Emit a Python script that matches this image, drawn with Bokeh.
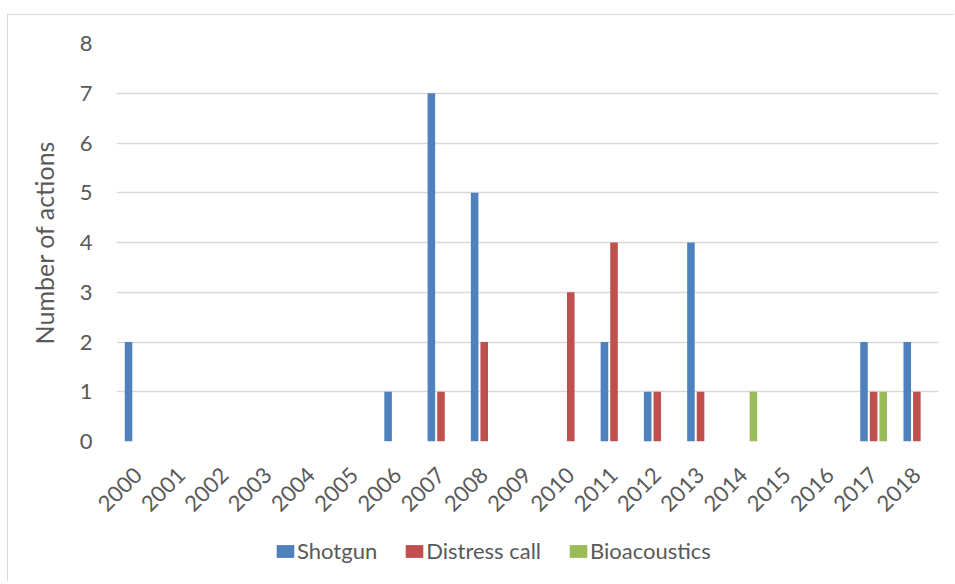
import math
from bokeh.plotting import figure
from bokeh.layouts import column
from bokeh.models import ColumnDataSource, FactorRange, Range1d, Legend, LegendItem, SingleIntervalTicker
from bokeh.transform import dodge
from bokeh.embed import file_html
from bokeh.resources import INLINE

years = [str(y) for y in range(2000, 2019)]
shotgun =      [2, 0, 0, 0, 0, 0, 1, 7, 5, 0, 0, 2, 1, 4, 0, 0, 0, 2, 2]
distress =     [0, 0, 0, 0, 0, 0, 0, 1, 2, 0, 3, 4, 1, 1, 0, 0, 0, 1, 1]
bioacoustics = [0, 0, 0, 0, 0, 0, 0, 0, 0, 0, 0, 0, 0, 0, 1, 0, 0, 1, 0]
series_names = ["Shotgun", "Distress call", "Bioacoustics"]
colors = ["#4F81BD", "#C0504D", "#9BBB59"]

source = ColumnDataSource(dict(years=years, shotgun=shotgun, distress=distress, bioacoustics=bioacoustics))

FONT = "Lato"
TXT = "#595959"
GRID = "#D9D9D9"
W = 946

p = figure(width=W, height=515, x_range=FactorRange(*years), y_range=Range1d(0, 8),
           output_backend="svg", toolbar_location=None)
p.min_border_left = 108
p.min_border_right = 16
p.min_border_top = 28
p.min_border_bottom = 89
p.outline_line_color = None
p.background_fill_color = "white"
p.border_fill_color = "white"

slot = 0.222
bw = 0.175
for k, (col, c) in enumerate(zip(["shotgun", "distress", "bioacoustics"], colors)):
    p.vbar(x=dodge("years", (k - 1) * slot, range=p.x_range), top=col, bottom=0, width=bw,
           source=source, fill_color=c, line_color=None)

p.xgrid.grid_line_color = None
p.ygrid.grid_line_color = GRID
p.ygrid.grid_line_width = 1.5
p.yaxis.ticker = SingleIntervalTicker(interval=1)

for ax in (p.xaxis[0], p.yaxis[0]):
    ax.axis_line_color = None
    ax.major_tick_line_color = None
    ax.minor_tick_line_color = None
    ax.major_label_text_font = FONT
    ax.major_label_text_font_size = "22px"
    ax.major_label_text_color = TXT

p.yaxis.major_label_standoff = 18
p.yaxis.axis_label = "Number of actions"
p.yaxis.axis_label_text_font = FONT
p.yaxis.axis_label_text_font_size = "25px"
p.yaxis.axis_label_text_font_style = "normal"
p.yaxis.axis_label_text_color = TXT
p.yaxis.axis_label_standoff = 18

p.xaxis.major_label_orientation = math.pi / 4
p.xaxis.major_label_standoff = 24
p.xaxis.group_text_font_size = "0px"

# legend strip below the chart (frame aligned with the chart's frame by the column)
q = figure(width=W, height=51, x_range=Range1d(0, 1), y_range=Range1d(0, 1),
           x_axis_location=None, y_axis_location=None,
           output_backend="svg", toolbar_location=None)
q.min_border_left = q.min_border_right = q.min_border_top = q.min_border_bottom = 0
q.outline_line_color = None
q.xgrid.grid_line_color = None
q.ygrid.grid_line_color = None
q.background_fill_color = "white"
q.border_fill_color = "white"
nan = float("nan")
legend_renderers = []
for c in colors:
    legend_renderers.append(q.quad(left=[nan], right=[nan], top=[nan], bottom=[nan],
                                   fill_color=c, line_color=None))

legend = Legend(items=[LegendItem(label=n, renderers=[r]) for n, r in zip(series_names, legend_renderers)],
                orientation="horizontal", location=(158, 17))
legend.border_line_color = None
legend.background_fill_alpha = 0
legend.padding = 0
legend.margin = 0
legend.spacing = 26
legend.glyph_width = 22
legend.glyph_height = 16
legend.label_height = 16
legend.label_standoff = 1
legend.label_text_font = FONT
legend.label_text_font_size = "22px"
legend.label_text_color = TXT
legend.label_text_baseline = "middle"
q.add_layout(legend, "center")

layout = column(p, q, spacing=0)
layout.margin = (14, 0, 0, 7)
layout.styles = {"border-top": "1px solid #D9D9D9", "border-left": "1px solid #D9D9D9"}

open("out.html", "w").write(file_html(layout, INLINE))
